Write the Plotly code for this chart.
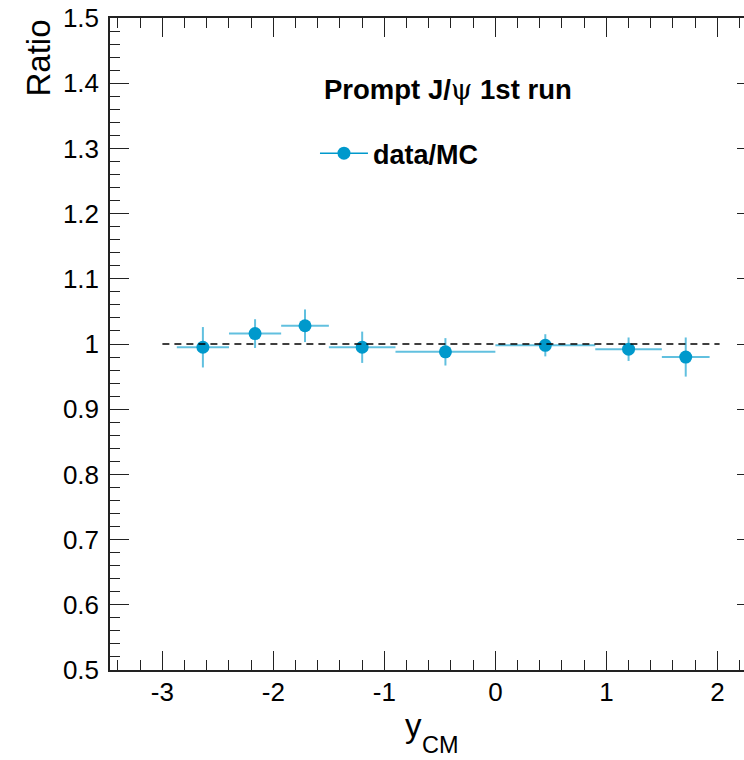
import plotly.graph_objects as go

# Rapidity bins (centre-of-mass frame) and the data/MC ratio per bin
bin_edges = [-2.87, -2.4, -1.93, -1.5, -0.9, 0.0, 0.9, 1.5, 1.93]
ratio = [0.995, 1.016, 1.028, 0.995, 0.988, 0.998, 0.992, 0.980]
ratio_err = [0.031, 0.022, 0.025, 0.024, 0.021, 0.017, 0.018, 0.030]

# Unity reference line and axis ranges
ref_level = 1.0
ref_span = [-3.0, 2.02]
x_range = [-3.472, 2.240]
y_range = [0.5, 1.5]

# x tick labels written with a plain hyphen
x_tick_vals = [-3, -2, -1, 0, 1, 2]
x_tick_text = ["-3", "-2", "-1", "0", "1", "2"]

header_text = "Prompt J/<span style='font-family:DejaVu Serif;font-weight:normal'>ψ</span> 1st run"
series_name = "data/MC"

centers = [(a + b) / 2 for a, b in zip(bin_edges[:-1], bin_edges[1:])]
half_widths = [(b - a) / 2 for a, b in zip(bin_edges[:-1], bin_edges[1:])]

FONT = "Liberation Sans, Arial, Helvetica, sans-serif"
MARKER_COLOR = "#0099cc"
ERR_COLOR = "rgba(0,153,204,0.62)"

fig = go.Figure()

# dashed line at ratio = 1
fig.add_trace(go.Scatter(
    x=ref_span, y=[ref_level, ref_level], mode="lines",
    line=dict(color="black", width=1.3, dash="7px,5px"),
    showlegend=False, hoverinfo="skip", yaxis="y2",
))

# ratio points with bin-width and statistical error bars
fig.add_trace(go.Scatter(
    x=centers, y=ratio, mode="markers",
    marker=dict(size=13, color=MARKER_COLOR),
    error_x=dict(type="data", array=half_widths, width=0, thickness=2, color=ERR_COLOR),
    error_y=dict(type="data", array=ratio_err, width=0, thickness=2, color=ERR_COLOR),
    showlegend=False,
))

# legend entry (line through marker)
fig.add_trace(go.Scatter(
    x=[None], y=[None], mode="lines+markers", name=series_name,
    line=dict(color=MARKER_COLOR, width=1.5),
    marker=dict(size=13, color=MARKER_COLOR),
))

axis_common = dict(
    showgrid=False, zeroline=False, showline=True,
    linecolor="#222", linewidth=1.5,
    ticks="inside", tickcolor="#222", tickwidth=1,
    tickfont=dict(family=FONT, size=26, color="black"),
)

fig.update_layout(
    width=744, height=760,
    margin=dict(l=110, r=0, t=18, b=90),
    paper_bgcolor="white", plot_bgcolor="white",
    xaxis=dict(
        range=x_range, tickmode="array", tickvals=x_tick_vals, ticktext=x_tick_text,
        ticklen=19, mirror="ticks",
        minor=dict(dtick=0.2, tick0=0, ticklen=10, ticks="inside", tickcolor="#222"),
        ticklabelstandoff=-2,
        **axis_common,
    ),
    yaxis=dict(
        range=y_range, dtick=0.1, tick0=0.5, ticklen=19, mirror=False,
        minor=dict(dtick=0.02, tick0=0.5, ticklen=10, ticks="inside", tickcolor="#222"),
        ticklabelstandoff=4,
        **axis_common,
    ),
    yaxis2=dict(
        overlaying="y", side="right", anchor="x", range=y_range, dtick=0.1, tick0=0.5,
        ticks="inside", ticklen=7, tickcolor="#222", showticklabels=False,
        showline=False, showgrid=False, zeroline=False,
    ),
    showlegend=True,
    legend=dict(
        x=0.3233, y=0.792, xanchor="left", yanchor="middle", itemwidth=48,
        bgcolor="rgba(0,0,0,0)", borderwidth=0,
        font=dict(family=FONT, size=27, color="black", weight="bold"),
    ),
    annotations=[
        dict(text=header_text, xref="paper", yref="paper", x=0.334, y=0.891,
             xanchor="left", yanchor="middle", showarrow=False,
             font=dict(family=FONT, size=27.5, color="black", weight="bold")),
        dict(text="Ratio", xref="paper", yref="paper", x=0, xshift=-72, y=1,
             xanchor="center", yanchor="top", textangle=-90, showarrow=False,
             font=dict(family=FONT, size=33, color="black")),
        dict(text="y", xref="paper", yref="paper", x=(413 - 110) / 634, y=-0.085,
             xanchor="center", yanchor="middle", showarrow=False,
             font=dict(family=FONT, size=33, color="black")),
        dict(text="CM", xref="paper", yref="paper", x=(440 - 110) / 634, y=-0.115,
             xanchor="center", yanchor="middle", showarrow=False, borderpad=0,
             font=dict(family=FONT, size=23.5, color="black")),
    ],
)

fig.write_html("out.html")
